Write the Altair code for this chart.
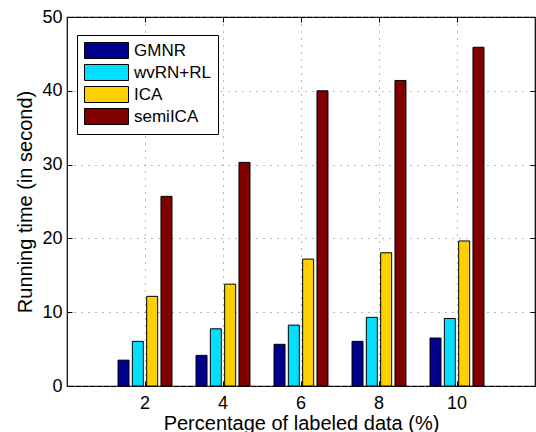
import altair as alt
import pandas as pd

percent = ["2", "4", "6", "8", "10"]
methods = ["GMNR", "wvRN+RL", "ICA", "semiICA"]
gmnr = [3.5, 4.15, 5.65, 6.05, 6.5]
wvrn = [6.05, 7.75, 8.25, 9.3, 9.15]
ica = [12.15, 13.8, 17.2, 18.05, 19.65]
semi = [25.7, 30.3, 40.0, 41.4, 45.9]
colors = ["#00008F", "#00DFFF", "#FFD000", "#800000"]
y_ticks = [0, 10, 20, 30, 40, 50]

rows = []
for m, vals in zip(methods, [gmnr, wvrn, ica, semi]):
    for p, v in zip(percent, vals):
        rows.append({"pct": p, "method": m, "value": v})
df = pd.DataFrame(rows)

FONT = "Liberation Sans"
xscale = alt.Scale(domain=percent, paddingInner=0, paddingOuter=0.5)
yscale = alt.Scale(domain=[0, 50], nice=False, zero=True)

bars = alt.Chart(df).mark_bar(stroke="black", strokeWidth=1).encode(
    x=alt.X("pct:N", sort=percent, scale=xscale,
            axis=alt.Axis(title="Percentage of labeled data (%)", labelAngle=0,
                          grid=True, gridDash=[1, 6], gridColor="#777777", gridWidth=1,
                          domain=False, tickSize=5, tickColor="black", offset=-5,
                          bandPosition=0.5, labelPadding=8, titlePadding=1)),
    xOffset=alt.XOffset("method:N", sort=methods,
                        scale=alt.Scale(domain=methods, paddingInner=0.232, paddingOuter=0.84)),
    y=alt.Y("value:Q", scale=yscale,
            axis=alt.Axis(title="Running time (in second)", values=y_ticks,
                          grid=True, gridDash=[1, 6], gridColor="#777777", gridWidth=1,
                          domain=False, tickSize=5, tickColor="black", offset=-5,
                          labelPadding=5, titlePadding=6)),
    fill=alt.Fill("method:N", sort=methods,
                  scale=alt.Scale(domain=methods, range=colors),
                  legend=alt.Legend(title=None, orient="none", legendX=10, legendY=18,
                                    symbolType="M-1,-1H4.5V1H-1Z", symbolSize=256,
                                    symbolStrokeColor="black", symbolStrokeWidth=1,
                                    symbolOpacity=1, labelFont=FONT, labelFontSize=17,
                                    labelColor="black", labelOffset=33, rowPadding=1,
                                    padding=7, strokeColor="black", fillColor="white",
                                    cornerRadius=0)),
)

tick_layer = alt.Chart(df).mark_point(opacity=0).encode(
    x=alt.X("pct:N", sort=percent, scale=xscale,
            axis=alt.Axis(orient="top", title=None, labels=False, grid=False, domain=False,
                          tickSize=5, tickColor="black", offset=-5, bandPosition=0.5)),
    y=alt.Y("value:Q", scale=yscale,
            axis=alt.Axis(orient="right", title=None, labels=False, grid=False, domain=False,
                          values=y_ticks, tickSize=5, tickColor="black", offset=-5)),
)

chart = alt.layer(bars, tick_layer).resolve_axis(
    x="independent", y="independent"
).properties(
    width=468, height=369,
    background="white",
    autosize=alt.AutoSizeParams(type="none"),
    padding={"left": 67, "top": 17, "right": 1, "bottom": 46},
).configure_view(
    stroke="black", strokeWidth=1.2
).configure_axis(
    labelFont=FONT, labelFontSize=18, labelColor="black",
    titleFont=FONT, titleFontSize=20, titleFontWeight="normal", titleColor="black",
)

chart.save("out.html", embed_options={"renderer": "svg", "actions": False})
